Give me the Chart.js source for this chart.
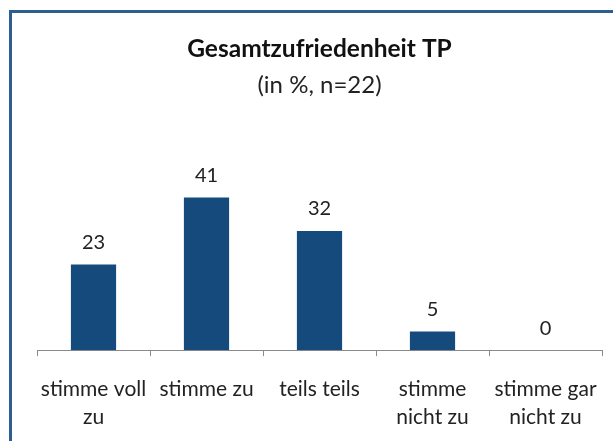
<!DOCTYPE html>
<html>
<head>
<meta charset="utf-8">
<script src="https://cdn.jsdelivr.net/npm/chart.js@4/dist/chart.umd.min.js"></script>
<style>
    html, body { margin: 0; padding: 0; background: #fff; }
    #wrap { width: 613px; height: 441px; position: relative; }
</style>
</head>
<body>
<div id="wrap"><canvas id="chart"></canvas></div>
<script>
// Gesamtzufriedenheit TP (in %, n=22)

const categories = [
    ['stimme voll', 'zu'],
    'stimme zu',
    'teils teils',
    ['stimme', 'nicht zu'],
    ['stimme gar', 'nicht zu']
];
const percentValues = [23, 41, 32, 5, 0];

const titleText = 'Gesamtzufriedenheit TP';
const subtitleText = '(in %, n=22)';

const barColor = '#144a7c';
const frameColor = '#2d5e92';
const fontFamily = "Lato, 'Open Sans', sans-serif";

// Frame (top + left edge of the original slide box)
const framePlugin = {
    id: 'frame',
    beforeDraw(chart) {
        const ctx = chart.ctx;
        ctx.save();
        ctx.fillStyle = '#fff';
        ctx.fillRect(0, 0, chart.width, chart.height);
        ctx.strokeStyle = frameColor;
        ctx.lineWidth = 3;
        ctx.beginPath();
        ctx.moveTo(10.5, chart.height);
        ctx.lineTo(10.5, 11.5);
        ctx.lineTo(chart.width, 11.5);
        ctx.stroke();
        ctx.restore();
    }
};

// Value labels above each bar
const valueLabels = {
    id: 'valueLabels',
    afterDatasetsDraw(chart) {
        const ctx = chart.ctx;
        const meta = chart.getDatasetMeta(0);
        ctx.save();
        ctx.font = '20px ' + fontFamily;
        ctx.fillStyle = '#222';
        ctx.textAlign = 'center';
        ctx.textBaseline = 'middle';
        meta.data.forEach((bar, i) => {
            ctx.fillText(String(percentValues[i]), bar.x, bar.y - 22);
        });
        ctx.restore();
    }
};

new Chart(document.getElementById('chart'), {
    type: 'bar',
    data: {
        labels: categories,
        datasets: [{
            data: percentValues,
            backgroundColor: barColor,
            borderWidth: 0,
            barPercentage: 0.4,
            categoryPercentage: 1
        }]
    },
    options: {
        responsive: true,
        maintainAspectRatio: false,
        animation: false,
        layout: {
            padding: { top: 0, left: 37, right: 11, bottom: -9 }
        },
        plugins: {
            legend: { display: false },
            tooltip: { enabled: false },
            title: {
                display: true,
                text: titleText,
                color: '#111',
                font: { family: fontFamily, size: 24.5, weight: 'bold', lineHeight: 1.2 },
                padding: { top: 34, bottom: 7 }
            },
            subtitle: {
                display: true,
                text: subtitleText,
                color: '#222',
                font: { family: fontFamily, size: 24, lineHeight: 1.2 },
                padding: { top: 0, bottom: 12 }
            }
        },
        scales: {
            x: {
                offset: true,
                grid: {
                    offset: true,
                    drawOnChartArea: false,
                    drawTicks: true,
                    tickLength: 6,
                    color: '#8a8a8a'
                },
                border: { display: true, color: '#8a8a8a' },
                ticks: {
                    color: '#222',
                    padding: 19,
                    maxRotation: 0,
                    autoSkip: false,
                    font: { family: fontFamily, size: 21, lineHeight: 1.33 }
                },
                // labels fit inside their categories, no extra side padding
                afterFit(scale) {
                    scale.paddingLeft = 0;
                    scale.paddingRight = 0;
                }
            },
            y: {
                display: false,
                min: 0,
                max: 64.2
            }
        }
    },
    plugins: [framePlugin, valueLabels]
});
</script>
</body>
</html>
